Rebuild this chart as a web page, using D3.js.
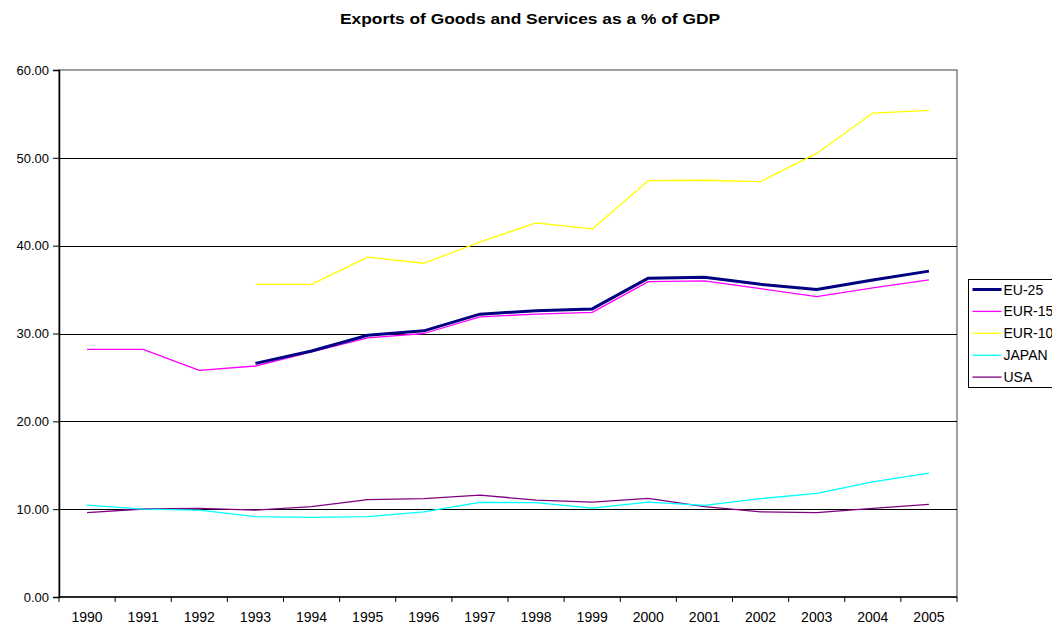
<!DOCTYPE html>
<html lang="en">
<head>
  <meta charset="UTF-8" />
  <title>Exports of Goods and Services as a % of GDP</title>
  <script src="https://unpkg.com/d3@7/dist/d3.min.js"></script>
  <style>
    body { margin: 0; background: #fff; font-family: "Liberation Sans", Arial, sans-serif; }
    svg { display: block; }
    .axis text { font-size: 13px; fill: #000; font-family: "Liberation Sans", Arial, sans-serif; }
    .axis .xlabel { font-size: 14px; }
    .axis path, .axis line { stroke: #000; }
  </style>
</head>
<body>
  <svg id="chart" width="1052" height="625"></svg>
  <script>
  const years = ["1990","1991","1992","1993","1994","1995","1996","1997",
                 "1998","1999","2000","2001","2002","2003","2004","2005"];
  const yTicks = [0, 10, 20, 30, 40, 50, 60];

  // null = no data for that year
  const eu25  = [null, null, null, 26.6, 28.0, 29.8, 30.3, 32.2, 32.6, 32.8, 36.3, 36.4, 35.6, 35.0, 36.1, 37.1];
  const eur15 = [28.2, 28.2, 25.8, 26.3, 27.9, 29.5, 30.0, 31.9, 32.2, 32.4, 35.9, 36.0, 35.1, 34.2, 35.2, 36.1];
  const eur10 = [null, null, null, 35.6, 35.6, 38.7, 38.0, 40.4, 42.6, 41.9, 47.4, 47.45, 47.3, 50.5, 55.1, 55.4];
  const japan = [10.45, 10.0, 9.9, 9.15, 9.07, 9.15, 9.7, 10.78, 10.74, 10.13, 10.8, 10.44, 11.2, 11.8, 13.1, 14.1];
  const usa   = [9.6, 10.02, 10.1, 9.9, 10.3, 11.08, 11.2, 11.6, 11.04, 10.8, 11.24, 10.3, 9.7, 9.6, 10.1, 10.55];

  const series = [
    { name: "EU-25",  values: eu25,  color: "#000080", width: 3 },
    { name: "EUR-15", values: eur15, color: "#ff00ff", width: 1.3 },
    { name: "EUR-10", values: eur10, color: "#ffff00", width: 1.3 },
    { name: "JAPAN",  values: japan, color: "#00ffff", width: 1.3 },
    { name: "USA",    values: usa,   color: "#800080", width: 1.3 }
  ];

  const svg = d3.select("#chart");
  const margin = { top: 70, left: 59, right: 1052 - 957, bottom: 625 - 597 };
  const width  = 1052 - margin.left - margin.right;
  const height = 625 - margin.top - margin.bottom;

  svg.append("text")
    .attr("x", 530)
    .attr("y", 24)
    .attr("text-anchor", "middle")
    .attr("textLength", 380)
    .attr("lengthAdjust", "spacingAndGlyphs")
    .style("font-size", "15px")
    .style("font-weight", "bold")
    .text("Exports of Goods and Services as a % of GDP");

  const chart = svg.append("g")
    .attr("transform", `translate(${margin.left},${margin.top})`);

  const x = d3.scaleBand().domain(years).range([0, width]);
  const y = d3.scaleLinear().domain([0, 60]).range([height, 0]);

  // plot area border (grey)
  chart.append("rect")
    .attr("x", 0).attr("y", 0)
    .attr("width", width).attr("height", height)
    .attr("fill", "none")
    .attr("stroke", "#808080")
    .attr("stroke-width", 1.5);

  // gridlines
  chart.selectAll(".grid")
    .data(yTicks.filter(d => d > 0 && d < 60))
    .join("line")
      .attr("class", "grid")
      .attr("x1", 0).attr("x2", width)
      .attr("y1", d => Math.round(y(d)) + 0.5)
      .attr("y2", d => Math.round(y(d)) + 0.5)
      .attr("stroke", "#000")
      .attr("stroke-width", 1);

  // y axis
  const yAxis = chart.append("g")
    .attr("class", "axis")
    .call(d3.axisLeft(y).tickValues(yTicks).tickFormat(d3.format(".2f")).tickSize(6).tickPadding(4));
  yAxis.select(".domain").attr("stroke-width", 1.5);

  // x axis: ticks between categories
  const xAxis = chart.append("g")
    .attr("class", "axis")
    .attr("transform", `translate(0,${height})`);
  xAxis.append("line")
    .attr("x1", 0).attr("x2", width)
    .attr("stroke", "#000").attr("stroke-width", 1.5);
  xAxis.selectAll(".xtick")
    .data(years.concat(["end"]))
    .join("line")
      .attr("class", "xtick")
      .attr("x1", (d, i) => i * x.step())
      .attr("x2", (d, i) => i * x.step())
      .attr("y1", 0).attr("y2", 5)
      .attr("stroke", "#000");
  xAxis.selectAll(".xlabel")
    .data(years)
    .join("text")
      .attr("class", "xlabel")
      .attr("x", d => x(d) + x.bandwidth() / 2)
      .attr("y", 25)
      .attr("text-anchor", "middle")
      .text(d => d);

  const line = d3.line()
    .defined(d => d.v != null)
    .x(d => x(d.year) + x.bandwidth() / 2)
    .y(d => y(d.v));

  // draw bottom to top so EU-25 sits over EUR-15
  const drawOrder = [series[4], series[3], series[2], series[1], series[0]];
  chart.selectAll(".series")
    .data(drawOrder)
    .join("path")
      .attr("class", "series")
      .attr("fill", "none")
      .attr("stroke", d => d.color)
      .attr("stroke-width", d => d.width)
      .attr("stroke-linejoin", "round")
      .attr("d", d => line(d.values.map((v, i) => ({ year: years[i], v }))));

  // legend
  const legend = svg.append("g").attr("transform", "translate(968.5,279.5)");
  legend.append("rect")
    .attr("width", 100).attr("height", 108)
    .attr("fill", "#fff")
    .attr("stroke", "#000");
  const item = legend.selectAll(".item")
    .data(series)
    .join("g")
      .attr("class", "item")
      .attr("transform", (d, i) => `translate(0,${10 + i * 21.9})`);
  item.append("line")
    .attr("x1", 4).attr("x2", 33)
    .attr("stroke", d => d.color)
    .attr("stroke-width", d => d.width);
  item.append("text")
    .attr("x", 35)
    .attr("y", 5)
    .style("font-size", "14px")
    .text(d => d.name);
  </script>
</body>
</html>
